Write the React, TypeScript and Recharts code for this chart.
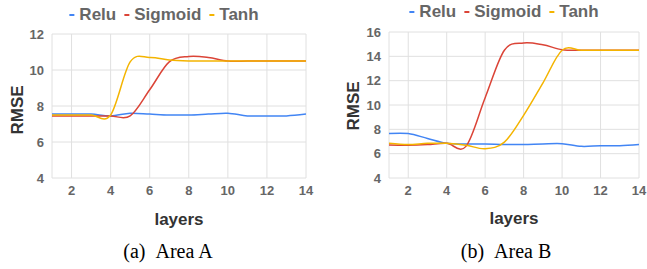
import { CartesianGrid, Line, LineChart, XAxis, YAxis } from "recharts";
import type { CSSProperties } from "react";

const layers = [1, 2, 3, 4, 5, 6, 7, 8, 9, 10, 11, 12, 13, 14];
const xTicks = [2, 4, 6, 8, 10, 12, 14];

// Area A
const reluA = [7.55, 7.55, 7.55, 7.45, 7.6, 7.55, 7.5, 7.5, 7.55, 7.6, 7.45, 7.45, 7.45, 7.55];
const sigmoidA = [7.45, 7.45, 7.45, 7.45, 7.45, 8.9, 10.45, 10.75, 10.7, 10.5, 10.5, 10.5, 10.5, 10.5];
const tanhA = [7.5, 7.5, 7.5, 7.5, 10.45, 10.7, 10.55, 10.5, 10.5, 10.5, 10.5, 10.5, 10.5, 10.5];
const yTicksA = [4, 6, 8, 10, 12];

// Area B
const reluB = [7.65, 7.65, 7.25, 6.85, 6.8, 6.8, 6.75, 6.75, 6.8, 6.82, 6.6, 6.65, 6.65, 6.75];
const sigmoidB = [6.72, 6.7, 6.75, 6.85, 6.6, 10.6, 14.5, 15.1, 14.95, 14.55, 14.5, 14.5, 14.5, 14.5];
const tanhB = [6.85, 6.75, 6.85, 6.85, 6.7, 6.4, 6.95, 9.15, 11.8, 14.5, 14.5, 14.5, 14.5, 14.5];
const yTicksB = [4, 6, 8, 10, 12, 14, 16];

const series = [
  { key: "relu", name: "Relu", color: "#4285f4" },
  { key: "sigmoid", name: "Sigmoid", color: "#db4437" },
  { key: "tanh", name: "Tanh", color: "#f4b400" },
];

const rows = (relu: number[], sigmoid: number[], tanh: number[]) =>
  layers.map((layer, i) => ({ layer, relu: relu[i], sigmoid: sigmoid[i], tanh: tanh[i] }));

// catmull-rom style smoothing, like the spreadsheet "smooth" line
function smooth(context: any) {
  const k = 1 / 6;
  let x0 = NaN, y0 = NaN, x1 = NaN, y1 = NaN, x2 = NaN, y2 = NaN, n = 0;
  const seg = (x: number, y: number) =>
    context.bezierCurveTo(x1 + k * (x2 - x0), y1 + k * (y2 - y0), x2 + k * (x1 - x), y2 + k * (y1 - y), x2, y2);
  return {
    areaStart() {},
    areaEnd() {},
    lineStart() {
      x0 = x1 = x2 = y0 = y1 = y2 = NaN;
      n = 0;
    },
    lineEnd() {
      if (n === 2) context.lineTo(x2, y2);
      else if (n === 3) seg(x1, y1);
    },
    point(x: number, y: number) {
      x = +x;
      y = +y;
      switch (n) {
        case 0:
          n = 1;
          context.moveTo(x, y);
          break;
        case 1:
          n = 2;
          x1 = x;
          y1 = y;
          break;
        case 2:
          n = 3;
        // falls through
        default:
          seg(x, y);
          break;
      }
      x0 = x1; x1 = x2; x2 = x;
      y0 = y1; y1 = y2; y2 = y;
    },
  };
}

const sans = "'Liberation Sans', Arial, sans-serif";
const tickStyle = { fontSize: 13, fontWeight: 700, fill: "#666", fontFamily: sans };

const at = (x: number, y: number, extra: CSSProperties = {}): CSSProperties => ({
  position: "absolute",
  left: x,
  top: y,
  transform: "translate(-50%, -50%)",
  whiteSpace: "nowrap",
  ...extra,
});

function Legend({ x, y }: { x: number; y: number }) {
  return (
    <div style={at(x, y, { fontFamily: sans, fontWeight: 700, fontSize: 17, color: "#666", display: "flex", alignItems: "center" })}>
      {series.map((s) => (
        <span key={s.key} style={{ display: "flex", alignItems: "center", marginRight: 8 }}>
          <span style={{ width: 5, height: 2, background: s.color, marginRight: 5 }} />
          {s.name}
        </span>
      ))}
    </div>
  );
}

type PanelProps = {
  data: ReturnType<typeof rows>;
  yTicks: number[];
  left: number;
  width: number;
  margin: { top: number; right: number; left: number; bottom: number };
};

function Panel({ data, yTicks, left, width, margin }: PanelProps) {
  return (
    <div style={{ position: "absolute", left, top: 0 }}>
      <LineChart width={width} height={269} data={data} margin={margin}>
        <CartesianGrid stroke="#e0e0e0" strokeWidth={1} />
        <XAxis
          dataKey="layer"
          type="number"
          domain={[1, 14]}
          ticks={xTicks}
          axisLine={false}
          tickLine={false}
          tick={tickStyle}
          height={30}
          tickMargin={2}
        />
        <YAxis
          type="number"
          domain={[yTicks[0], yTicks[yTicks.length - 1]]}
          ticks={yTicks}
          axisLine={false}
          tickLine={false}
          tick={tickStyle}
          width={30}
          tickMargin={2}
        />
        {series.map((s) => (
          <Line
            key={s.key}
            dataKey={s.key}
            name={s.name}
            type={smooth as any}
            stroke={s.color}
            strokeWidth={1.5}
            dot={false}
            isAnimationActive={false}
          />
        ))}
      </LineChart>
    </div>
  );
}

export default function App() {
  const axisTitle: CSSProperties = { fontFamily: sans, fontWeight: 700, fontSize: 17, color: "#333" };
  const caption: CSSProperties = { fontFamily: "'Liberation Serif', 'Times New Roman', serif", fontSize: 20, color: "#000" };
  return (
    <div style={{ position: "absolute", left: 0, top: 0, width: 647, height: 269, background: "#fff", overflow: "hidden" }}>
      <Panel data={rows(reluA, sigmoidA, tanhA)} yTicks={yTicksA} left={0} width={330} margin={{ top: 34, right: 24, left: 22, bottom: 61 }} />
      <Panel data={rows(reluB, sigmoidB, tanhB)} yTicks={yTicksB} left={330} width={317} margin={{ top: 32, right: 8, left: 29, bottom: 61 }} />

      <Legend x={168} y={15} />
      <Legend x={508} y={12} />

      <div style={at(18, 110, { ...axisTitle, transform: "translate(-50%, -50%) rotate(-90deg)" })}>RMSE</div>
      <div style={at(354, 106, { ...axisTitle, transform: "translate(-50%, -50%) rotate(-90deg)" })}>RMSE</div>
      <div style={at(179, 220, axisTitle)}>layers</div>
      <div style={at(514, 219, axisTitle)}>layers</div>

      <div style={at(168, 251, caption)}>(a)&nbsp;&nbsp;Area A</div>
      <div style={at(506, 251, caption)}>(b)&nbsp;&nbsp;Area B</div>
    </div>
  );
}
